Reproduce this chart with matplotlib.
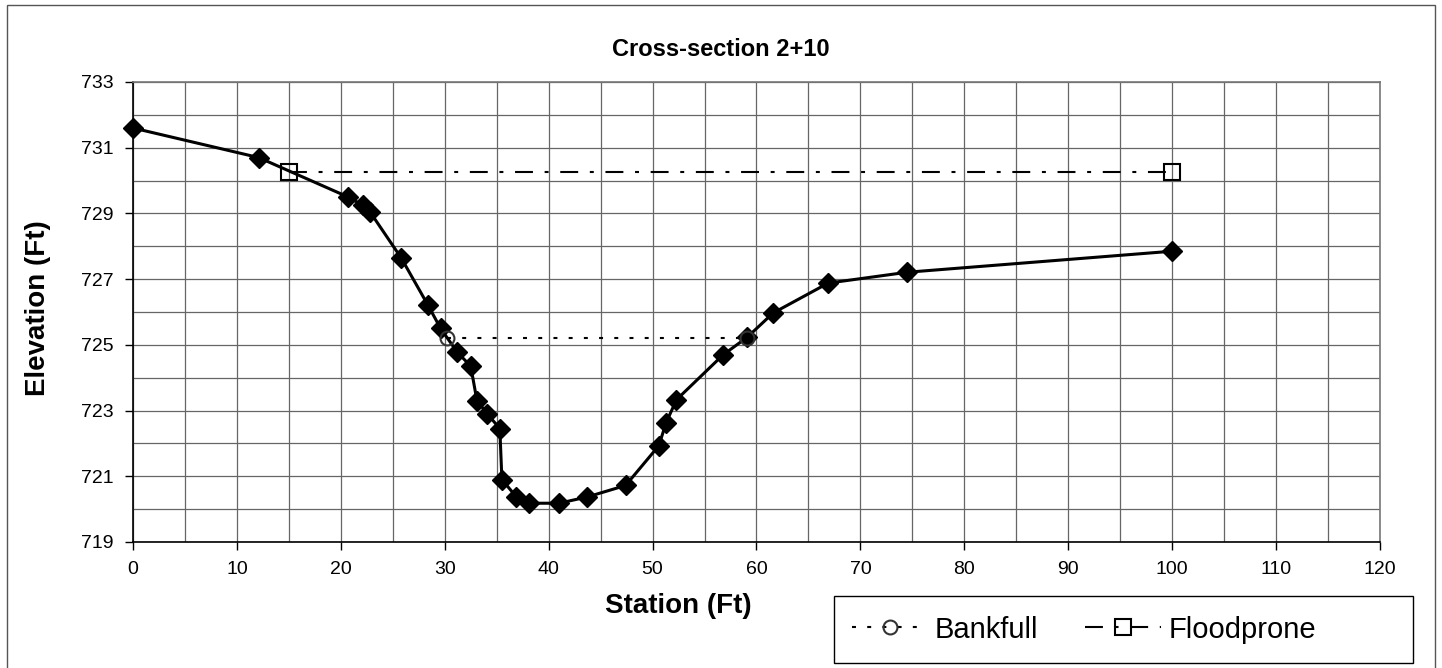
import matplotlib
matplotlib.use("Agg")
import matplotlib.pyplot as plt
from matplotlib.patches import Rectangle
from matplotlib.ticker import MultipleLocator

plt.rcParams['font.family'] = ['Liberation Sans', 'DejaVu Sans']

# Surveyed ground profile
station = [0, 12.1, 20.7, 22.1, 22.8, 25.8, 28.4, 29.6, 31.2, 32.5, 33.1, 34.1,
           35.3, 35.5, 36.9, 38.1, 41.0, 43.7, 47.4, 50.6, 51.3, 52.3, 56.8,
           59.1, 61.6, 66.9, 74.5, 100]
elevation = [731.6, 730.7, 729.5, 729.25, 729.05, 727.65, 726.2, 725.5, 724.78,
             724.35, 723.3, 722.9, 722.45, 720.9, 720.37, 720.18, 720.18, 720.37,
             720.72, 721.93, 722.63, 723.33, 724.7, 725.23, 725.97, 726.88,
             727.21, 727.85]

# Bankfull and floodprone water surfaces
bankfull_x = [30.2, 59.1]
bankfull_y = [725.22, 725.22]
floodprone_x = [15, 100]
floodprone_y = [730.27, 730.27]

x_ticks = list(range(0, 121, 10))
y_ticks = list(range(719, 734, 2))

title = "Cross-section 2+10"
xlabel = "Station (Ft)"
ylabel = "Elevation (Ft)"

W, H = 1442, 668
fig = plt.figure(figsize=(W / 100, H / 100), dpi=100)
ax = fig.add_axes([133 / W, 1 - 542 / H, (1380 - 133) / W, (542 - 82) / H])

# chart frame
fig.patches.append(Rectangle((0.005, -0.01), 0.99, 1.003, transform=fig.transFigure,
                             fill=False, edgecolor='#555555', linewidth=1.0))

ax.set_xlim(0, 120)
ax.set_ylim(719, 733)
ax.set_xticks(x_ticks)
ax.set_yticks(y_ticks)
ax.xaxis.set_minor_locator(MultipleLocator(5))
ax.yaxis.set_minor_locator(MultipleLocator(1))
ax.grid(True, which='both', color='#666666', linewidth=0.9)
ax.set_axisbelow(True)
ax.tick_params(which='major', direction='out', length=6, width=1, labelsize=14,
               colors='black', pad=8)
ax.tick_params(which='minor', length=0)
for side in ('left', 'bottom'):
    ax.spines[side].set_color('black')
    ax.spines[side].set_linewidth(1.2)
for side in ('right', 'top'):
    ax.spines[side].set_color('#777777')
    ax.spines[side].set_linewidth(1.2)

ax.plot(station, elevation, color='black', linewidth=2.2, marker='D',
        markersize=10.5, markerfacecolor='black', markeredgecolor='black',
        zorder=3, clip_on=False)

bf, = ax.plot(bankfull_x, bankfull_y, color='black', linewidth=1.5,
              linestyle=(0, (1.9, 5.4)), marker='o', markersize=10,
              markerfacecolor='none', markeredgecolor='#333333',
              markeredgewidth=1.5, zorder=4, label='Bankfull')
fp, = ax.plot(floodprone_x, floodprone_y, color='black', linewidth=1.5,
              linestyle=(0, (8.6, 5.6, 1.9, 5.6)), marker='s', markersize=12,
              markerfacecolor='none', markeredgecolor='black',
              markeredgewidth=1.5, zorder=4, label='Floodprone')

fig.text(721 / W, 1 - 50 / H, title, fontsize=17, fontweight='bold',
         ha='center', va='center')
fig.text(678 / W, 1 - 606 / H, xlabel, fontsize=20, fontweight='bold',
         ha='center', va='center')
fig.text(38 / W, 1 - 308 / H, ylabel, fontsize=20, fontweight='bold',
         ha='center', va='center', rotation=90)

# legend box below the plot, right side
lx0, lx1, ly0, ly1 = 834, 1413, 596, 663
fig.patches.append(Rectangle((lx0 / W, 1 - ly1 / H), (lx1 - lx0) / W, (ly1 - ly0) / H,
                             transform=fig.transFigure, fill=False,
                             edgecolor='black', linewidth=1.0))
fig.legend(handles=[bf, fp], loc='center left', ncol=2,
           bbox_to_anchor=(852 / W, 1 - (ly0 + ly1) / 2 / H),
           fontsize=21, frameon=False, handlelength=2.6, borderaxespad=0,
           borderpad=0, columnspacing=1.6, handletextpad=0.25)

fig.savefig("out.png", dpi=100)
